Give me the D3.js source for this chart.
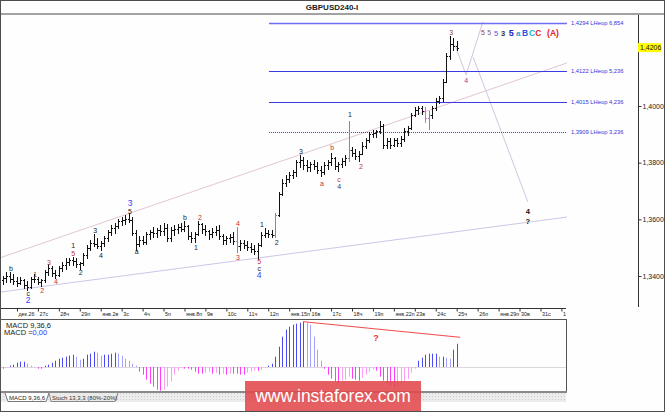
<!DOCTYPE html>
<html>
<head>
<meta charset="utf-8">
<script src="https://cdn.jsdelivr.net/npm/d3@7"></script>
<style>
    body { margin: 0; background: #fff; }
    svg { display: block; font-family: "Liberation Sans", Arial, sans-serif; }
</style>
</head>
<body>
<div id="chart"></div>
<script>
// H4 bars, GBPUSD, dec 22 .. jan 25
var opens = [
    1.3386,1.3393,1.3400,1.3389,1.3382,1.3375,1.3386,1.3368,1.3361,1.3389,
    1.3389,1.3379,1.3386,1.3414,1.3428,1.3411,1.3404,1.3428,1.3439,1.3449,
    1.3456,1.3453,1.3442,1.3446,1.3474,1.3499,1.3516,1.3513,1.3506,1.3516,
    1.3534,1.3555,1.3570,1.3577,1.3594,1.3598,1.3601,1.3598,1.3552,1.3513,
    1.3527,1.3520,1.3548,1.3555,1.3552,1.3562,1.3559,1.3570,1.3534,1.3562,
    1.3566,1.3573,1.3566,1.3577,1.3541,1.3534,1.3548,1.3584,1.3566,1.3559,
    1.3548,1.3555,1.3562,1.3541,1.3527,1.3534,1.3538,1.3523,1.3506,1.3516,
    1.3509,1.3502,1.3495,1.3488,1.3509,1.3545,1.3552,1.3548,1.3545,1.3615,
    1.3689,1.3728,1.3742,1.3756,1.3767,1.3802,1.3809,1.3792,1.3785,1.3795,
    1.3788,1.3774,1.3767,1.3792,1.3802,1.3816,1.3788,1.3795,1.3806,1.3816,
    1.3845,1.3834,1.3824,1.3831,1.3859,1.3880,1.3901,1.3905,1.3912,1.3929,
    1.3862,1.3877,1.3862,1.3880,1.3870,1.3884,1.3912,1.3922,1.3968,1.3986,
    1.3993,1.3982,1.3958,1.3968,1.3993,1.4018,1.4028,1.4085,1.4177,1.4219,1.4212
];
var highs = [
    1.3400,1.3411,1.3414,1.3404,1.3396,1.3393,1.3389,1.3382,1.3396,1.3404,
    1.3396,1.3389,1.3421,1.3439,1.3432,1.3421,1.3435,1.3446,1.3460,1.3463,
    1.3467,1.3463,1.3449,1.3481,1.3509,1.3527,1.3545,1.3534,1.3523,1.3541,
    1.3562,1.3577,1.3584,1.3601,1.3608,1.3612,1.3619,1.3605,1.3562,1.3541,
    1.3541,1.3555,1.3562,1.3570,1.3566,1.3577,1.3584,1.3580,1.3570,1.3577,
    1.3580,1.3587,1.3594,1.3577,1.3555,1.3555,1.3594,1.3584,1.3577,1.3562,
    1.3566,1.3573,1.3577,1.3548,1.3541,1.3548,1.3552,1.3570,1.3527,1.3527,
    1.3520,1.3513,1.3506,1.3516,1.3555,1.3566,1.3562,1.3562,1.3622,1.3696,
    1.3739,1.3753,1.3767,1.3774,1.3809,1.3827,1.3820,1.3809,1.3802,1.3809,
    1.3799,1.3788,1.3799,1.3809,1.3834,1.3820,1.3802,1.3816,1.3824,1.3944,
    1.3855,1.3848,1.3838,1.3870,1.3887,1.3908,1.3915,1.3915,1.3944,1.3933,
    1.3887,1.3884,1.3887,1.3887,1.3891,1.3919,1.3929,1.3975,1.3996,1.4000,
    1.4000,1.3993,1.3979,1.4000,1.4025,1.4035,1.4092,1.4187,1.4244,1.4237,1.4226
];
var lows = [
    1.3375,1.3382,1.3379,1.3375,1.3368,1.3372,1.3361,1.3354,1.3361,1.3382,
    1.3372,1.3365,1.3382,1.3407,1.3400,1.3393,1.3400,1.3421,1.3428,1.3439,
    1.3442,1.3435,1.3428,1.3442,1.3467,1.3492,1.3506,1.3499,1.3492,1.3506,
    1.3527,1.3545,1.3555,1.3570,1.3580,1.3584,1.3591,1.3545,1.3495,1.3506,
    1.3513,1.3516,1.3534,1.3541,1.3538,1.3545,1.3548,1.3527,1.3527,1.3548,
    1.3555,1.3559,1.3562,1.3534,1.3523,1.3520,1.3548,1.3555,1.3548,1.3534,
    1.3541,1.3548,1.3534,1.3513,1.3513,1.3520,1.3513,1.3488,1.3495,1.3502,
    1.3492,1.3488,1.3481,1.3463,1.3506,1.3538,1.3541,1.3538,1.3538,1.3615,
    1.3686,1.3718,1.3735,1.3746,1.3756,1.3785,1.3781,1.3774,1.3771,1.3781,
    1.3767,1.3753,1.3763,1.3781,1.3795,1.3781,1.3774,1.3785,1.3795,1.3806,
    1.3824,1.3816,1.3806,1.3831,1.3852,1.3873,1.3891,1.3894,1.3905,1.3852,
    1.3852,1.3855,1.3859,1.3859,1.3862,1.3877,1.3898,1.3919,1.3965,1.3975,
    1.3972,1.3944,1.3919,1.3961,1.3989,1.4011,1.4021,1.4085,1.4169,1.4201,1.4201
];
var closes = [
    1.3393,1.3400,1.3389,1.3382,1.3375,1.3386,1.3368,1.3361,1.3389,1.3389,
    1.3379,1.3386,1.3414,1.3428,1.3411,1.3404,1.3428,1.3439,1.3449,1.3456,
    1.3453,1.3442,1.3446,1.3474,1.3499,1.3516,1.3513,1.3506,1.3516,1.3534,
    1.3555,1.3570,1.3577,1.3594,1.3598,1.3601,1.3598,1.3552,1.3513,1.3527,
    1.3520,1.3548,1.3555,1.3552,1.3562,1.3559,1.3570,1.3534,1.3562,1.3566,
    1.3573,1.3566,1.3577,1.3541,1.3534,1.3548,1.3584,1.3566,1.3559,1.3548,
    1.3555,1.3562,1.3541,1.3527,1.3534,1.3538,1.3523,1.3506,1.3516,1.3509,
    1.3502,1.3495,1.3488,1.3509,1.3545,1.3552,1.3548,1.3545,1.3615,1.3689,
    1.3728,1.3742,1.3756,1.3767,1.3802,1.3809,1.3792,1.3785,1.3795,1.3788,
    1.3774,1.3767,1.3792,1.3802,1.3816,1.3788,1.3795,1.3806,1.3816,1.3845,
    1.3834,1.3824,1.3831,1.3859,1.3880,1.3901,1.3905,1.3912,1.3929,1.3862,
    1.3877,1.3862,1.3880,1.3870,1.3884,1.3912,1.3922,1.3968,1.3986,1.3993,
    1.3982,1.3958,1.3968,1.3993,1.4018,1.4028,1.4085,1.4177,1.4219,1.4212,1.4206
];
// MACD 9,36,6 histogram
var macdHist = [
    -0.0002,-0.0001,0.0001,0.0002,0.0004,0.0005,0.0005,0.0003,0.0001,0.0000,
    -0.0002,-0.0002,0.0001,0.0002,0.0004,0.0006,0.0008,0.0009,0.0010,0.0011,
    0.0012,0.0010,0.0007,0.0008,0.0012,0.0013,0.0015,0.0014,0.0011,0.0012,
    0.0012,0.0013,0.0014,0.0013,0.0011,0.0008,0.0006,0.0003,0.0001,-0.0005,
    -0.0008,-0.0013,-0.0017,-0.0020,-0.0023,-0.0024,-0.0023,-0.0020,-0.0015,-0.0008,
    -0.0004,-0.0001,-0.0002,-0.0002,-0.0003,-0.0005,-0.0007,-0.0007,-0.0006,-0.0005,
    -0.0007,-0.0006,-0.0008,-0.0007,-0.0008,-0.0007,-0.0007,-0.0007,-0.0008,-0.0008,
    -0.0006,-0.0005,-0.0004,-0.0004,-0.0003,-0.0001,0.0001,0.0003,0.0010,0.0020,
    0.0030,0.0037,0.0040,0.0042,0.0043,0.0044,0.0045,0.0044,0.0042,0.0030,
    0.0017,0.0006,-0.0002,-0.0008,-0.0012,-0.0015,-0.0016,-0.0014,-0.0013,-0.0010,
    -0.0012,-0.0013,-0.0014,-0.0011,-0.0008,-0.0005,-0.0003,-0.0004,-0.0010,-0.0014,
    -0.0017,-0.0019,-0.0020,-0.0019,-0.0018,-0.0016,-0.0012,-0.0006,-0.0002,0.0006,
    0.0009,0.0012,0.0013,0.0013,0.0013,0.0010,0.0010,0.0009,0.0008,0.0017,0.0023
];

var dayLabels = ["дек.26","27с","28ч","29п","янв.2в","3с","4ч","5п","янв.8п","9в","10с","11ч","12п",
    "янв.15п","16в","17с","18ч","19п","янв.22п","23в","24с","25ч","26п","янв.29п","30в","31с","1"];
var firstDayBar = 4, barsPerDay = 6;

// 1,4200 sits under the last-price box, so only its tick is drawn
var priceTicks = [1.34, 1.36, 1.38, 1.40];
var lastPrice = 1.4206;

var fibLevels = [1.4294, 1.4122, 1.4015, 1.3909];
var fibRatios = ["6,854", "5,236", "4,236", "3,236"];
var fibBars = [76.2, 161.6];

// [bar, price]
var upperChannel = [[-0.9, 1.3464], [161.6, 1.4152]];
var lowerChannel = [[-0.9, 1.3343], [161.6, 1.3608]];
var pathWave4 = [[129.5, 1.4215], [132.7, 1.4110], [137.5, 1.4297]];
var pathBigWave4 = [[134.7, 1.4173], [150.4, 1.3661]];
var macdDivergence = [[86, 0.0045], [131, 0.00294]];
var macdQuestion = [106.9, 0.0029];

// [text, bar, price, style]
var waveLabels = [
    ["b", 2.3, 1.3425, "k"], ["c", 7.2, 1.3340, "k"], ["2", 7.2, 1.3315, "B"],
    ["1", 9.2, 1.3407, "r"], ["2", 11.2, 1.3350, "r"], ["3", 13.2, 1.3448, "r"],
    ["4", 15.2, 1.3382, "r"], ["1", 20.1, 1.3509, "k"], ["5", 20.1, 1.3478, "r"],
    ["2", 22.3, 1.3414, "k"], ["3", 26.4, 1.3562, "k"], ["4", 28.1, 1.3471, "k"],
    ["3", 36.4, 1.3658, "B"], ["5", 36.4, 1.3628, "k"], ["a", 38.3, 1.3485, "k"],
    ["b", 52.1, 1.3605, "k"], ["1", 55.3, 1.3502, "k"], ["2", 56.4, 1.3608, "r"],
    ["4", 67.3, 1.3584, "r"], ["3", 67.3, 1.3467, "r"], ["5", 73.4, 1.3453, "r"],
    ["c", 73.4, 1.3428, "k"], ["4", 73.4, 1.3402, "B"], ["1", 74.2, 1.3582, "k"],
    ["2", 78.4, 1.3518, "k"], ["3", 85.4, 1.3838, "k"], ["a", 91.4, 1.3728, "r"],
    ["b", 94.3, 1.3852, "r"], ["c", 96.3, 1.3742, "r"], ["4", 96.3, 1.3716, "s"],
    ["1", 99.4, 1.3970, "k"], ["2", 102.6, 1.3785, "r"], ["3", 128.4, 1.4261, "br"],
    ["4", 132.7, 1.4090, "pu"], ["4", 150.4, 1.3629, "kb"], ["?", 150.4, 1.3594, "kb"]
];

// wave degree legend at the top: [text, bar, style]
var degreePrice = 1.4258;
var degreeLabels = [
    ["5", 137.5, "d1"], ["5", 139.3, "d2"], ["5", 141.3, "d3"], ["3", 143.3, "d4"],
    ["5", 145.6, "d5"], ["a", 147.6, "d6"], ["B", 149.6, "d7"], ["C", 151.6, "d8"],
    ["C", 153.4, "d9"], ["(A)", 157.6, "d9"]
];

var labelStyle = {
    k:  {fill: "#222", size: 7, weight: "normal"},
    r:  {fill: "#c03434", size: 7, weight: "normal"},
    B:  {fill: "#3c3cff", size: 8.5, weight: "normal"},
    s:  {fill: "#3a3a6a", size: 7, weight: "normal"},
    br: {fill: "#8a4040", size: 7, weight: "normal"},
    pu: {fill: "#a0409a", size: 7, weight: "normal"},
    kb: {fill: "#111", size: 7.5, weight: "bold"},
    d1: {fill: "#a04040", size: 7, weight: "normal"},
    d2: {fill: "#806080", size: 7, weight: "normal"},
    d3: {fill: "#5656e0", size: 7.5, weight: "normal"},
    d4: {fill: "#333", size: 7.5, weight: "bold"},
    d5: {fill: "#2222d0", size: 9, weight: "bold"},
    d6: {fill: "#2aa0c8", size: 8, weight: "bold"},
    d7: {fill: "#2a55e0", size: 8.5, weight: "bold"},
    d8: {fill: "#28b0e8", size: 8.5, weight: "bold"},
    d9: {fill: "#e02424", size: 8.5, weight: "bold"}
};
var barTint = {67: "#8a8a8a", 78: "#8a8a8a", 99: "#8a8a8a", 121: "#ff4cff", 122: "#8a8a8a"};

(function() {
    var W = 665, H = 412;
    var fmt = function(p) { return p.toFixed(4).replace(".", ","); };

    var x = d3.scaleLinear().domain([0, 130]).range([3, 456.7]);
    var y = d3.scaleLinear().domain([1.34, 1.40]).range([276, 106]);
    var yM = d3.scaleLinear().domain([0, 0.0045]).range([366.7, 321.7]);
    var px = function(i) { return Math.round(x(i)) + 0.5; };

    var svg = d3.select("#chart")
        .append("svg")
            .attr("width", W)
            .attr("height", H);

    svg.append("rect")
        .attr("x", 0.5).attr("y", 0.5)
        .attr("width", W - 1).attr("height", H - 1)
        .attr("fill", "#fdfefd")
        .attr("stroke", "#4d4d4d");

    // title bar
    svg.append("line")
        .attr("x1", 1).attr("x2", W - 1)
        .attr("y1", 14).attr("y2", 14)
        .attr("stroke", "#a2a2a2")
        .attr("stroke-width", 2);
    svg.append("text")
        .attr("x", 332).attr("y", 10)
        .attr("text-anchor", "middle")
        .attr("font-size", 8)
        .attr("font-weight", "bold")
        .attr("fill", "#222")
        .text("GBPUSD240-I");

    svg.append("clipPath").attr("id", "plotClip")
        .append("rect").attr("x", 1).attr("y", 15).attr("width", 637).attr("height", 293);

    var plot = svg.append("g").attr("clip-path", "url(#plotClip)");

    var line = d3.line()
        .x(function(d) { return x(d[0]); })
        .y(function(d) { return y(d[1]); });

    // channel and projection lines
    plot.append("path").datum(upperChannel)
        .attr("d", line).attr("fill", "none").attr("stroke", "#e2c6d8");
    plot.append("path").datum(lowerChannel)
        .attr("d", line).attr("fill", "none").attr("stroke", "#cdc6e6");
    plot.append("path").datum(pathWave4)
        .attr("d", line).attr("fill", "none").attr("stroke", "#d6c4dc");
    plot.append("path").datum(pathBigWave4)
        .attr("d", line).attr("fill", "none").attr("stroke", "#d0c6e0");

    // fibonacci extension levels
    var fib = plot.append("g").selectAll("g")
        .data(fibLevels)
        .enter()
        .append("g");
    fib.append("line")
        .attr("x1", x(fibBars[0])).attr("x2", x(fibBars[1]))
        .attr("y1", function(d) { return Math.round(y(d)) + 0.5; })
        .attr("y2", function(d) { return Math.round(y(d)) + 0.5; })
        .attr("stroke", function(d, i) { return i === 0 ? "#6f6ff6" : "#3b3be6"; })
        .attr("stroke-width", function(d, i) { return i === 0 ? 1.6 : 1; })
        .attr("stroke-dasharray", function(d, i) { return i === 3 ? "1,1" : null; });
    fib.append("text")
        .attr("x", x(fibBars[1]) + 4)
        .attr("y", function(d) { return y(d) + 2; })
        .attr("font-size", 5.8)
        .attr("fill", "#3434e0")
        .text(function(d, i) { return fmt(d) + " LHeop " + fibRatios[i]; });

    // price bars
    plot.append("g")
        .selectAll("path")
        .data(d3.range(closes.length))
        .enter()
        .append("path")
            .attr("fill", "none")
            .attr("stroke", function(i) { return barTint[i] || "#111"; })
            .attr("d", function(i) {
                var cx = px(i),
                    yo = Math.round(y(opens[i])) + 0.5,
                    yc = Math.round(y(closes[i])) + 0.5;
                return "M" + cx + "," + Math.floor(y(highs[i])) + "V" + Math.ceil(y(lows[i]) + 1) +
                    "M" + (cx - 1.5) + "," + yo + "H" + (cx - 0.5) +
                    "M" + (cx + 0.5) + "," + yc + "H" + (cx + 1.5);
            });

    // wave labels
    plot.append("g")
        .selectAll("text")
        .data(waveLabels)
        .enter()
        .append("text")
            .attr("x", function(d) { return x(d[1]); })
            .attr("y", function(d) { return y(d[2]); })
            .attr("dy", "0.36em")
            .attr("text-anchor", "middle")
            .attr("font-size", function(d) { return labelStyle[d[3]].size; })
            .attr("font-weight", function(d) { return labelStyle[d[3]].weight; })
            .attr("fill", function(d) { return labelStyle[d[3]].fill; })
            .text(function(d) { return d[0]; });

    plot.append("g")
        .selectAll("text")
        .data(degreeLabels)
        .enter()
        .append("text")
            .attr("x", function(d) { return x(d[1]); })
            .attr("y", y(degreePrice))
            .attr("dy", "0.36em")
            .attr("text-anchor", "middle")
            .attr("font-size", function(d) { return labelStyle[d[2]].size; })
            .attr("font-weight", function(d) { return labelStyle[d[2]].weight; })
            .attr("fill", function(d) { return labelStyle[d[2]].fill; })
            .text(function(d) { return d[0]; });

    // price axis
    svg.append("line")
        .attr("x1", 638.5).attr("x2", 638.5)
        .attr("y1", 15).attr("y2", 307)
        .attr("stroke", "#333");
    var yAxis = svg.append("g")
        .attr("transform", "translate(638.5,0)")
        .call(d3.axisRight(y).tickValues(priceTicks).tickSize(3).tickPadding(1).tickFormat(fmt));
    yAxis.select(".domain").remove();
    yAxis.attr("font-family", null).attr("font-size", 7);
    yAxis.selectAll("line").attr("stroke", "#333");
    yAxis.selectAll("text").attr("fill", "#222");

    svg.append("rect")
        .attr("x", 638).attr("y", y(lastPrice) - 4.5)
        .attr("width", 23).attr("height", 9)
        .attr("fill", "#ffff00");
    svg.append("text")
        .attr("x", 640).attr("y", y(lastPrice) + 2.5)
        .attr("font-size", 7)
        .attr("fill", "#111")
        .text(fmt(lastPrice));

    // time axis
    svg.append("line")
        .attr("x1", 1).attr("x2", 566)
        .attr("y1", 308.5).attr("y2", 308.5)
        .attr("stroke", "#333");
    var xAxis = svg.append("g")
        .attr("transform", "translate(0,308.5)")
        .call(d3.axisBottom(x)
            .tickValues(dayLabels.map(function(d, k) { return firstDayBar + barsPerDay * k; }))
            .tickSize(3)
            .tickPadding(1)
            .tickFormat(function(d, k) { return dayLabels[k]; }));
    xAxis.select(".domain").remove();
    xAxis.attr("font-family", null).attr("font-size", 5.4);
    xAxis.selectAll("line").attr("stroke", "#333");
    xAxis.selectAll("text").attr("text-anchor", "start").attr("x", 1).attr("fill", "#222");

    // MACD panel
    var macd = svg.append("g");
    macd.append("rect")
        .attr("x", 0.5).attr("y", 319.5)
        .attr("width", 566).attr("height", 72)
        .attr("fill", "#fdfefd")
        .attr("stroke", "#555");
    macd.append("line")
        .attr("x1", 1).attr("x2", 566)
        .attr("y1", Math.round(yM(0)) + 0.5).attr("y2", Math.round(yM(0)) + 0.5)
        .attr("stroke", "#ddd6dd");

    macd.append("g")
        .selectAll("line")
        .data(macdHist)
        .enter()
        .append("line")
            .attr("x1", function(d, i) { return px(i); })
            .attr("x2", function(d, i) { return px(i); })
            .attr("y1", Math.round(yM(0)))
            .attr("y2", function(d) { return yM(d); })
            .attr("stroke", function(d, i) {
                var prev = i > 0 ? macdHist[i - 1] : 0;
                if (d >= 0) return d >= prev ? "#4b4bf5" : "#a3a3fb";
                return d <= prev ? "#ff3cff" : "#ff9cf5";
            });

    macd.append("path")
        .datum(macdDivergence)
        .attr("d", d3.line().x(function(d) { return x(d[0]); }).y(function(d) { return yM(d[1]); }))
        .attr("stroke", "#f44a4a")
        .attr("fill", "none");
    macd.append("text")
        .attr("x", x(macdQuestion[0])).attr("y", yM(macdQuestion[1]))
        .attr("dy", "0.36em")
        .attr("text-anchor", "middle")
        .attr("font-size", 9)
        .attr("font-weight", "bold")
        .attr("fill", "#f03030")
        .text("?");

    macd.append("text")
        .attr("x", 6).attr("y", 327.5)
        .attr("font-size", 7.5)
        .attr("fill", "#222")
        .text("MACD 9,36,6");
    var mv = macd.append("text")
        .attr("x", 4).attr("y", 335)
        .attr("font-size", 7.5)
        .attr("fill", "#222");
    mv.append("tspan").text("MACD =");
    mv.append("tspan").attr("fill", "#3434ff").text("0,00");

    macd.append("line")
        .attr("x1", 1).attr("x2", 567)
        .attr("y1", 392).attr("y2", 392)
        .attr("stroke", "#8a8a8a")
        .attr("stroke-width", 2);

    // indicator tabs
    var pat = svg.append("defs").append("pattern")
        .attr("id", "hatch").attr("width", 3).attr("height", 3)
        .attr("patternUnits", "userSpaceOnUse");
    pat.append("rect").attr("width", 3).attr("height", 3).attr("fill", "#ececec");
    pat.append("rect").attr("width", 1).attr("height", 1).attr("fill", "#cfcfcf");
    svg.append("rect")
        .attr("x", 1).attr("y", 393)
        .attr("width", 565).attr("height", 9)
        .attr("fill", "url(#hatch)");
    svg.append("path")
        .attr("d", "M5,393L8,401.5H46L49,393")
        .attr("fill", "#fff").attr("stroke", "#777");
    svg.append("path")
        .attr("d", "M49,393L51,401.5H115L118,393")
        .attr("fill", "#eaeaea").attr("stroke", "#888");
    svg.append("text")
        .attr("x", 9).attr("y", 400)
        .attr("font-size", 6).attr("fill", "#222")
        .text("MACD 9,36,6");
    svg.append("text")
        .attr("x", 52).attr("y", 400)
        .attr("font-size", 6).attr("fill", "#333")
        .text("Stoch 13,3,3 (80%-20%)");

    // watermark
    svg.append("rect")
        .attr("x", 245).attr("y", 381)
        .attr("width", 176).attr("height", 30)
        .attr("fill", "#e0484c")
        .attr("fill-opacity", 0.88);
    svg.append("text")
        .attr("x", 333).attr("y", 402)
        .attr("text-anchor", "middle")
        .attr("font-size", 17.5)
        .attr("fill", "#fff")
        .text("www.instaforex.com");
})();
</script>
</body>
</html>
